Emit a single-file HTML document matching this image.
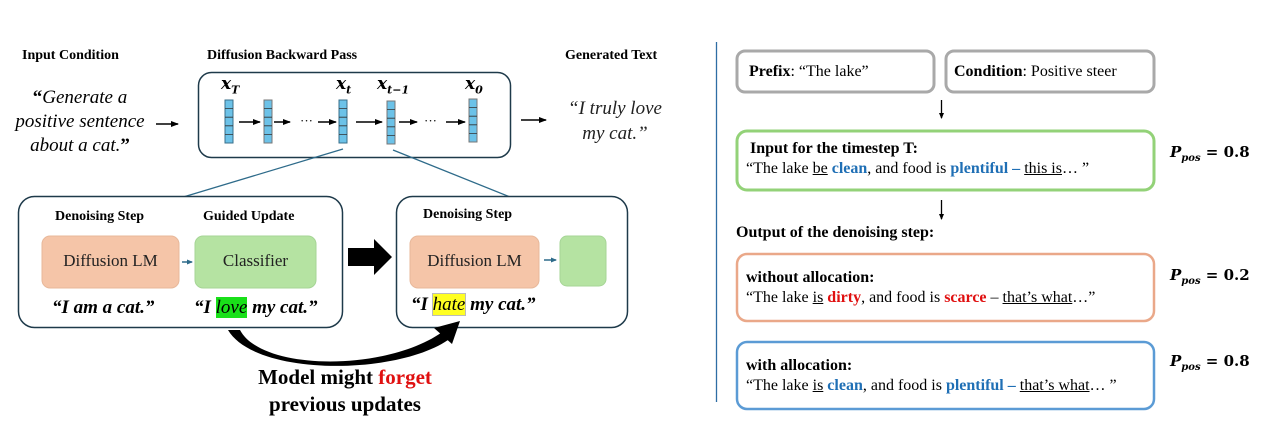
<!DOCTYPE html>
<html><head><meta charset="utf-8"><style>
body{margin:0;width:1264px;height:432px;background:#fff;position:relative;overflow:hidden;font-family:"Liberation Serif",serif;color:#000}
.a{position:absolute;white-space:nowrap}
.b{font-weight:bold}
.r{font-size:16px;line-height:19px}
u{text-decoration:underline}
.bl{color:#1f6fb5;font-weight:bold}
.rd{color:#e01010;font-weight:bold}
.pp{font-family:"DejaVu Serif",serif;font-weight:bold;font-size:15px}
</style></head><body>
<svg class="a" style="left:0;top:0" width="1264" height="432">
<defs><marker id="ah" markerWidth="8" markerHeight="8" refX="7" refY="4" orient="auto" markerUnits="userSpaceOnUse"><path d="M0,1 L8,4 L0,7z" fill="#000"/></marker>
<marker id="ah2" markerWidth="6" markerHeight="6" refX="5" refY="3" orient="auto" markerUnits="userSpaceOnUse"><path d="M0,0.5 L6,3 L0,5.5z" fill="#2e6b8a"/></marker>
<marker id="ah3" markerWidth="6" markerHeight="6" refX="5" refY="3" orient="auto" markerUnits="userSpaceOnUse"><path d="M0,0.5 L6,3 L0,5.5z" fill="#000"/></marker></defs>
<rect x="198.5" y="72.5" width="312" height="85" rx="13" fill="none" stroke="#1e3a4a" stroke-width="1.5"/>
<g fill="#6cc2e8" stroke="#3a6f8a" stroke-width="1">
<rect x="225" y="100" width="8" height="43"/><rect x="264" y="100" width="8" height="43" stroke="#777"/><rect x="339" y="100" width="8" height="43"/><rect x="387" y="101" width="8" height="43" stroke="#777"/><rect x="469" y="99" width="8" height="43" stroke="#777"/>
</g>
<g stroke="#333" stroke-width="0.8">
<path d="M225 108.6h8M225 117.2h8M225 125.8h8M225 134.4h8M264 108.6h8M264 117.2h8M264 125.8h8M264 134.4h8M339 108.6h8M339 117.2h8M339 125.8h8M339 134.4h8M387 109.6h8M387 118.2h8M387 126.8h8M387 135.4h8M469 107.6h8M469 116.2h8M469 124.8h8M469 133.4h8"/>
</g>
<g stroke="#000" stroke-width="1.5" marker-end="url(#ah)">
<line x1="239" y1="122" x2="260" y2="122"/><line x1="274" y1="122" x2="290" y2="122"/><line x1="318" y1="122" x2="336" y2="122"/><line x1="356" y1="122" x2="382" y2="122"/><line x1="399" y1="122" x2="417" y2="122"/><line x1="446" y1="122" x2="465" y2="122"/>
<line x1="156" y1="124" x2="178" y2="124"/><line x1="521" y1="120" x2="546" y2="120"/>
</g>
<text x="300" y="125" font-size="13" font-family="Liberation Serif">···</text>
<text x="424" y="125" font-size="13" font-family="Liberation Serif">···</text>
<line x1="343" y1="149" x2="180" y2="198" stroke="#2e6b8a" stroke-width="1.3"/>
<line x1="393" y1="150" x2="510" y2="197" stroke="#2e6b8a" stroke-width="1.3"/>
<rect x="18.5" y="196.5" width="324" height="131" rx="16" fill="#fff" stroke="#1e3a4a" stroke-width="1.5"/>
<rect x="396.5" y="196.5" width="231" height="131" rx="16" fill="#fff" stroke="#1e3a4a" stroke-width="1.5"/>
<rect x="42" y="236" width="137" height="52" rx="8" fill="#f5c5a8" stroke="#e8b89a"/>
<rect x="195" y="236" width="121" height="52" rx="8" fill="#b5e3a2" stroke="#a6d596"/>
<rect x="410" y="236" width="129" height="52" rx="8" fill="#f5c5a8" stroke="#e8b89a"/>
<rect x="560" y="236" width="46" height="50" rx="7" fill="#b5e3a2" stroke="#a6d596"/>
<line x1="182" y1="262" x2="192" y2="262" stroke="#2e6b8a" stroke-width="1.5" marker-end="url(#ah2)"/>
<line x1="544" y1="260" x2="556" y2="260" stroke="#2e6b8a" stroke-width="1.5" marker-end="url(#ah2)"/>
<path d="M348 248h26v-9l18 18l-18 18v-9h-26z" fill="#000"/>
<path d="M228 330 L240 330 C262 372 390 372 445 330 L452 325 L448 340 C395 376 255 376 228 330z" fill="#000"/>
<path d="M434 328 L460 321 L452 344z" fill="#000"/>
<line x1="716.5" y1="42" x2="716.5" y2="402" stroke="#2e6da4" stroke-width="1.3"/>
<rect x="737" y="51" width="197" height="41" rx="8" fill="none" stroke="#a9a9a9" stroke-width="3"/>
<rect x="946" y="51" width="208" height="41" rx="8" fill="none" stroke="#a9a9a9" stroke-width="3"/>
<rect x="737" y="131" width="417" height="59" rx="10" fill="none" stroke="#93d278" stroke-width="3"/>
<rect x="737" y="254" width="417" height="67" rx="10" fill="none" stroke="#eaa889" stroke-width="2.5"/>
<rect x="737" y="342" width="417" height="67" rx="10" fill="none" stroke="#5b9bd5" stroke-width="2.5"/>
<g stroke="#000" stroke-width="1.3" marker-end="url(#ah3)"><line x1="941.5" y1="100" x2="941.5" y2="118"/><line x1="941.5" y1="200" x2="941.5" y2="219"/></g>
</svg>
<div class="a b" style="left:22px;top:48px;font-size:14px">Input Condition</div>
<div class="a b" style="left:207px;top:48px;font-size:14px">Diffusion Backward Pass</div>
<div class="a b" style="left:565px;top:48px;font-size:14px">Generated Text</div>
<div class="a" style="left:0;top:86px;width:160px;text-align:center;font-size:19px;font-style:italic;line-height:24px"><b style="font-style:normal">“</b>Generate a<br>positive sentence<br>about a cat.<b style="font-style:normal">”</b></div>
<div class="a" style="left:555px;top:96px;width:120px;text-align:center;font-size:19px;font-style:italic;line-height:25px;color:#222">“I truly love<br>my cat.”</div>
<div class="a b" style="left:221px;top:74px;font-size:17px;font-style:italic;font-family:'DejaVu Serif',serif">x<sub style="font-size:11px">T</sub></div>
<div class="a b" style="left:336px;top:74px;font-size:17px;font-style:italic;font-family:'DejaVu Serif',serif">x<sub style="font-size:11px">t</sub></div>
<div class="a b" style="left:377px;top:74px;font-size:17px;font-style:italic;font-family:'DejaVu Serif',serif">x<sub style="font-size:11px">t−1</sub></div>
<div class="a b" style="left:465px;top:74px;font-size:17px;font-style:italic;font-family:'DejaVu Serif',serif">x<sub style="font-size:11px">0</sub></div>
<div class="a b" style="left:55px;top:209px;font-size:14px">Denoising Step</div>
<div class="a b" style="left:203px;top:209px;font-size:14px">Guided Update</div>
<div class="a b" style="left:423px;top:207px;font-size:14px">Denoising Step</div>
<div class="a" style="left:42px;top:251px;width:137px;text-align:center;font-size:17px;color:#222">Diffusion LM</div>
<div class="a" style="left:195px;top:251px;width:121px;text-align:center;font-size:17px;color:#222">Classifier</div>
<div class="a" style="left:410px;top:251px;width:129px;text-align:center;font-size:17px;color:#222">Diffusion LM</div>
<div class="a b" style="left:52px;top:297px;font-size:19px;font-style:italic">“I am a cat.”</div>
<div class="a b" style="left:194px;top:297px;font-size:19px;font-style:italic">“I <span style="background:#19e019;font-weight:normal">love</span> my cat.”</div>
<div class="a b" style="left:411px;top:294px;font-size:19px;font-style:italic">“I <span style="background:#ffff22;font-weight:normal;outline:1px solid #bbb">hate</span> my cat.”</div>
<div class="a b" style="left:195px;top:364px;width:300px;text-align:center;font-size:21px;line-height:27px">Model might <span style="color:#e01010">forget</span><br>previous updates</div>
<div class="a r" style="left:749px;top:62px"><b>Prefix</b>: “The lake”</div>
<div class="a r" style="left:954px;top:62px"><b>Condition</b>: Positive steer</div>
<div class="a r" style="left:746px;top:139px;line-height:20px"><b>&nbsp;Input for the timestep T:</b><br>“The lake <u>be</u> <span class="bl">clean</span>, and food is <span class="bl">plentiful –</span> <u>this is</u>… ”</div>
<div class="a r b" style="left:736px;top:223px">Output of the denoising step:</div>
<div class="a r" style="left:746px;top:268px;line-height:20px"><b>without allocation:</b><br>“The lake <u>is</u> <span class="rd">dirty</span>, and food is <span class="rd">scarce</span> – <u>that’s what</u>…”</div>
<div class="a r" style="left:746px;top:356px;line-height:20px"><b>with allocation:</b><br>“The lake <u>is</u> <span class="bl">clean</span>, and food is <span class="bl">plentiful –</span> <u>that’s what</u>… ”</div>
<div class="a pp" style="left:1170px;top:143px"><i>P<sub style="font-size:10px">pos</sub></i> = 0.8</div>
<div class="a pp" style="left:1170px;top:266px"><i>P<sub style="font-size:10px">pos</sub></i> = 0.2</div>
<div class="a pp" style="left:1170px;top:352px"><i>P<sub style="font-size:10px">pos</sub></i> = 0.8</div>
</body></html>
